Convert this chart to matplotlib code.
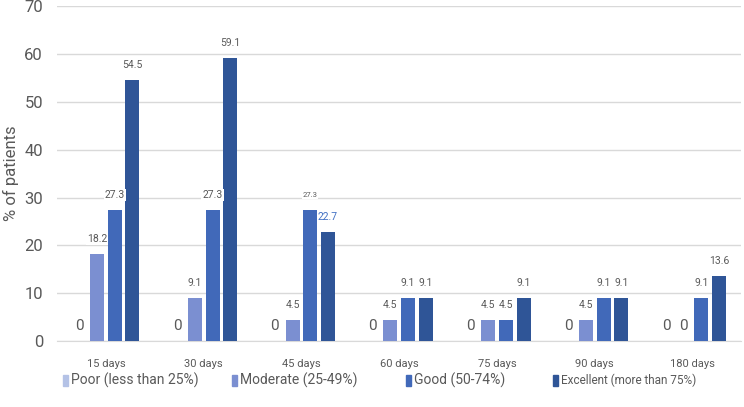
import numpy as np
import matplotlib
matplotlib.use("Agg")
import matplotlib.pyplot as plt
from matplotlib.patches import Rectangle

plt.rcParams['font.family'] = ['Roboto', 'DejaVu Sans']

days = ["15 days", "30 days", "45 days", "60 days", "75 days", "90 days", "180 days"]
poor = [0, 0, 0, 0, 0, 0, 0]
moderate = [18.2, 9.1, 4.5, 4.5, 4.5, 4.5, 0]
good = [27.3, 27.3, 27.3, 9.1, 4.5, 9.1, 9.1]
excellent = [54.5, 59.1, 22.7, 9.1, 9.1, 9.1, 13.6]
names = ["Poor (less than 25%)", "Moderate (25-49%)", "Good (50-74%)", "Excellent (more than 75%)"]
colors = ["#b4c2e6", "#7b8fd1", "#4169b9", "#2f5597"]

series = [poor, moderate, good, excellent]
x = np.arange(len(days))
step = 0.181
width = 0.143
gray = "#595959"
W, H = 744, 407

fig = plt.figure(figsize=(7.44, 4.07), dpi=100)
ax = fig.add_axes([0.0766, 0.162, 0.92, 0.823])

for i, vals in enumerate(series):
    pos = x + (i - 1.5) * step
    bars = ax.bar(pos, vals, width, color=colors[i], label=names[i], zorder=3)
    for j, (b, v) in enumerate(zip(bars, vals)):
        fs = 7.5
        col = gray
        if v == 0:
            fs = 11
        if i == 2 and j == 2:
            fs = 5.5
        if i == 3 and j == 2:
            col = "#4472c4"
        lab = "0" if v == 0 else f"{v:g}"
        ax.annotate(lab, (b.get_x() + b.get_width() / 2, v), xytext=(0, 15),
                    textcoords="offset pixels", ha="center", va="center",
                    fontsize=fs, color=col, zorder=4,
                    bbox=dict(boxstyle="square,pad=0.1", fc="white", ec="none") if v > 0 else None)

ax.set_xlim(-0.5, len(days) - 0.5)
ax.set_ylim(0, 70)
ax.set_yticks(range(0, 71, 10))
ax.set_xticks(x)
ax.set_xticklabels(days, fontsize=8, color=gray)
ax.tick_params(axis="both", length=0)
ax.tick_params(axis="x", pad=13)
ax.tick_params(axis="y", labelsize=12, labelcolor=gray, pad=10)
ax.grid(axis="y", color="#d9d9d9", linewidth=1, zorder=0)
for s in ["left", "right", "top"]:
    ax.spines[s].set_visible(False)
ax.spines["bottom"].set_color("#d9d9d9")
ax.set_ylabel("% of patients", fontsize=12, color=gray)
ax.yaxis.set_label_coords(-0.056, 0.5)

# legend drawn by hand along the bottom
leg_x = [63, 232, 406, 553]
leg_fs = [10, 10, 10, 8.5]
ly = 1 - 380 / H
for k in range(4):
    fig.patches.append(Rectangle((leg_x[k] / W, ly - 5.5 / H), 5 / W, 11 / H,
                                 transform=fig.transFigure, color=colors[k]))
    fig.text((leg_x[k] + 8) / W, ly, names[k], fontsize=leg_fs[k], color=gray,
             va="center", ha="left")

fig.savefig("out.png", dpi=100)
